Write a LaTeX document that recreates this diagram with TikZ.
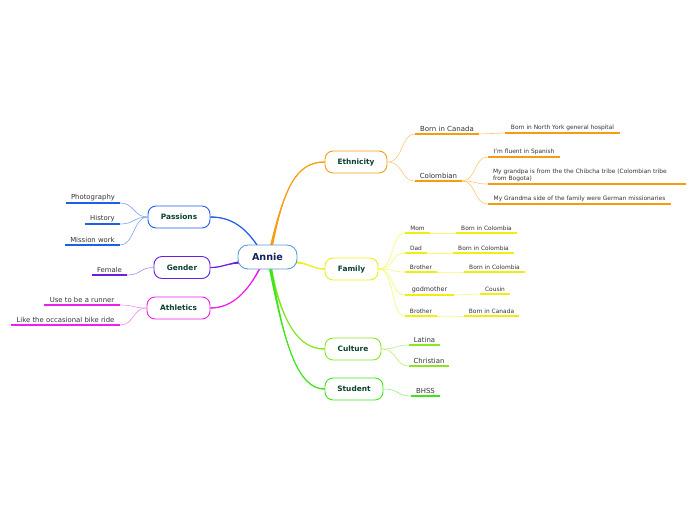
\documentclass[tikz,border=0pt]{standalone}
\usepackage{fontspec}
\setmainfont{DejaVu Sans}
\usetikzlibrary{calc,backgrounds}
\definecolor{O}{HTML}{F59D0E}\definecolor{Ol}{HTML}{FBC874}
\definecolor{Y}{HTML}{EEEE11}\definecolor{Yl}{HTML}{F8F870}
\definecolor{C}{HTML}{88E622}\definecolor{Cl}{HTML}{B8F07A}
\definecolor{G}{HTML}{3FE51A}\definecolor{Gl}{HTML}{90F07A}
\definecolor{B}{HTML}{1F5FE8}\definecolor{Bl}{HTML}{7FA4F2}
\definecolor{P}{HTML}{6A1FE0}\definecolor{Pl}{HTML}{A989F0}
\definecolor{M}{HTML}{EE1FEE}\definecolor{Ml}{HTML}{F48CF4}
\definecolor{root}{HTML}{5B9BD5}
\definecolor{maintxt}{HTML}{0D4030}
\definecolor{roottxt}{HTML}{15235A}
\definecolor{txt}{HTML}{333333}
% tapered main connector: colour, start, control1, control2, end, half-offset at start
\newcommand\tpr[6]{%
  \draw[#1, line width=1.2pt] (#2) .. controls (#3) and (#4) .. (#5);
  \fill[#1] ($(#2)+(#6)$) .. controls (#3) and (#4) .. ($(#5)+(0,-0.5)$)
  -- ($(#5)+(0,0.5)$) .. controls (#4) and (#3) .. ($(#2)-(#6)$) -- cycle;}
\begin{document}
\begin{tikzpicture}[x=1pt,y=-1pt,
  main/.style={draw, fill=white, rounded corners=8pt, line width=0.9pt, minimum height=22pt,
    inner sep=1pt, font=\fontsize{7.4}{8}\selectfont\bfseries, text=maintxt},
  lf/.style={anchor=south, inner xsep=1pt, inner ysep=1.8pt, text=txt},
  lfS/.style={lf, font=\fontsize{5.9}{7}\selectfont},
  lfM/.style={lf, font=\fontsize{6.9}{8}\selectfont},
  lfB/.style={lf, font=\fontsize{7}{8}\selectfont},
  lc/.style={line width=0.6pt},
  ul/.style={line width=1.4pt}]
\useasboundingbox (0,0) rectangle (696,520);

% ---------- main nodes ----------
\node[draw=root, fill=white, rounded corners=10pt, line width=0.9pt, minimum width=59pt, minimum height=24pt,
  font=\fontsize{9.6}{10}\selectfont\bfseries, text=roottxt] (annie) at (267.5,257) {Annie};
\node[main, draw=O, minimum width=62pt] (eth) at (356,162) {Ethnicity};
\node[main, draw=Y, minimum width=53pt] (fam) at (351.5,269) {Family};
\node[main, draw=C, minimum width=56pt] (cul) at (353,349) {Culture};
\node[main, draw=G, minimum width=58pt] (stu) at (354,389) {Student};
\node[main, draw=B, minimum width=62pt] (pas) at (179,217) {Passions};
\node[main, draw=P, minimum width=56pt] (gen) at (182,267.5) {Gender};
\node[main, draw=M, minimum width=63pt] (ath) at (178.5,308) {Athletics};

% ---------- central connectors (tapered) ----------
\coordinate (aT) at (271,248);
\coordinate (aTL) at (259,248);
\coordinate (aL) at (242,262);
\coordinate (aR) at (293,262);
\coordinate (aBL) at (261,266);
\coordinate (aB) at (270,266);
\begin{scope}[on background layer]
\tpr{O}{aT}{284,188}{296,162}{eth.west}{1.6,0}
\tpr{B}{aTL}{246,228}{232,217}{pas.east}{1.3,0.9}
\tpr{P}{aL}{225,264}{222,267.5}{gen.east}{0,1.5}
\tpr{M}{aBL}{248,292}{232,308}{ath.east}{1.4,-0.7}
\tpr{Y}{aR}{310,263}{312,269}{fam.west}{0,1.5}
\tpr{C}{aB}{282,322}{298,349}{cul.west}{1.6,0}
\tpr{G}{aB}{284,345}{298,389}{stu.west}{1.6,0}
\end{scope}

% ---------- Ethnicity ----------
\node[lfB, minimum width=64pt] (bic) at (447,134) {Born in Canada};
\node[lfS, minimum width=115pt] (nyh) at (562.5,133) {Born in North York general hospital};
\node[lfB, minimum width=47pt] (col) at (438.5,181) {Colombian};
\node[lfS, minimum width=72pt] (spa) at (524,157) {I'm fluent in Spanish};
\node[lfS, minimum width=198pt, text width=188pt, align=left] (gpa) at (587,184)
  {My grandpa is from the the Chibcha tribe (Colombian tribe\\from Bogota)};
\node[lfS, minimum width=183pt] (gma) at (579.5,204) {My Grandma side of the family were German missionaries};
\foreach \n in {bic,nyh,col,spa,gpa,gma}
  \draw[ul, O] (\n.south west) -- (\n.south east);
\draw[lc, Ol] (eth.east) .. controls +(16,0) and +(-14,0) .. (bic.south west);
\draw[lc, Ol] (eth.east) .. controls +(16,0) and +(-14,0) .. (col.south west);
\draw[lc, Ol] (bic.south east) .. controls +(12,0) and +(-12,0) .. (nyh.south west);
\foreach \n in {spa,gpa,gma}
  \draw[lc, Ol] (col.south east) .. controls +(14,0) and +(-14,0) .. (\n.south west);

% ---------- Family ----------
\node[lfS, minimum width=25pt] (mom) at (417.5,233) {Mom};
\node[lfS, minimum width=61pt] (mom2) at (486.5,233) {Born in Colombia};
\node[lfS, minimum width=22pt] (dad) at (416,253) {Dad};
\node[lfS, minimum width=61pt] (dad2) at (483.5,253) {Born in Colombia};
\node[lfS, minimum width=32pt] (bro) at (421,272) {Brother};
\node[lfS, minimum width=61pt] (bro2) at (494.5,272) {Born in Colombia};
\node[lf, font=\fontsize{6.4}{7}\selectfont, minimum width=49pt] (god) at (429.5,295) {godmother};
\node[lfS, minimum width=30pt] (cou) at (495,294) {Cousin};
\node[lfS, minimum width=32pt] (brb) at (421,316) {Brother};
\node[lfS, minimum width=55pt] (brb2) at (491.5,316) {Born in Canada};
\foreach \n in {mom,mom2,dad,dad2,bro,bro2,god,cou,brb,brb2}
  \draw[ul, Y] (\n.south west) -- (\n.south east);
\foreach \n in {mom,dad,bro,god,brb}
  \draw[lc, Yl] (fam.east) .. controls +(16,0) and +(-14,0) .. (\n.south west);
\foreach \a/\b in {mom/mom2,dad/dad2,bro/bro2,god/cou,brb/brb2}
  \draw[lc, Yl] (\a.south east) .. controls +(12,0) and +(-12,0) .. (\b.south west);

% ---------- Culture / Student ----------
\node[lfM, minimum width=31pt] (lat) at (424.5,345) {Latina};
\node[lfM, minimum width=40pt] (chr) at (429,366) {Christian};
\foreach \n in {lat,chr}
  \draw[ul, C] (\n.south west) -- (\n.south east);
\foreach \n in {lat,chr}
  \draw[lc, Cl] (cul.east) .. controls +(16,0) and +(-14,0) .. (\n.south west);
\node[lfM, minimum width=29pt] (bhs) at (425.5,396) {BHSS};
\draw[ul, G] (bhs.south west) -- (bhs.south east);
\draw[lc, Gl] (stu.east) .. controls +(16,0) and +(-14,0) .. (bhs.south west);

% ---------- Passions ----------
\node[lfM, minimum width=54pt] (pho) at (93,203) {Photography};
\node[lfM, minimum width=35pt] (his) at (102.5,224) {History};
\node[lfM, minimum width=55pt] (mis) at (92.5,245) {Mission work};
\foreach \n in {pho,his,mis}{
  \draw[ul, B] (\n.south west) -- (\n.south east);
  \draw[lc, Bl] (pas.west) .. controls +(-14,0) and +(14,0) .. (\n.south east);}

% ---------- Gender ----------
\node[lfM, minimum width=35pt] (fem) at (109.5,275) {Female};
\draw[ul, P] (fem.south west) -- (fem.south east);
\draw[lc, Pl] (gen.west) .. controls +(-14,0) and +(14,0) .. (fem.south east);

% ---------- Athletics ----------
\node[lfM, minimum width=76pt] (run) at (82,305) {Use to be a runner};
\node[lfM, minimum width=109pt] (bik) at (65.5,325) {Like the occasional bike ride};
\foreach \n in {run,bik}{
  \draw[ul, M] (\n.south west) -- (\n.south east);
  \draw[lc, Ml] (ath.west) .. controls +(-14,0) and +(14,0) .. (\n.south east);}
\end{tikzpicture}
\end{document}
